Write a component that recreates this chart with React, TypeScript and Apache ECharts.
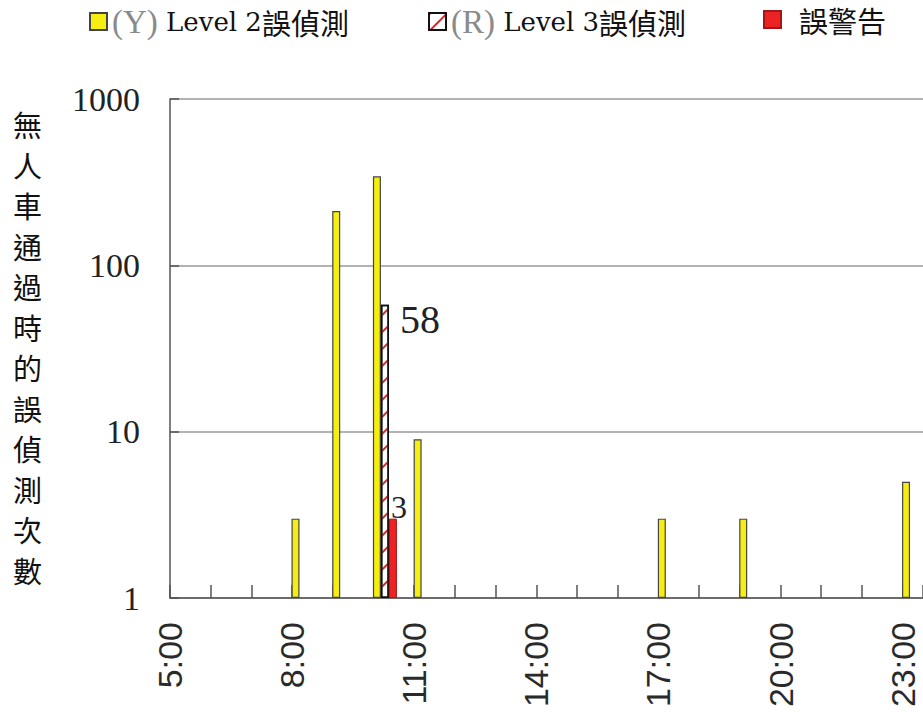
import React, { useEffect, useRef } from "react";
import * as echarts from "echarts";

// ---- data ----
const level2Hours = [8, 9, 10, 11, 17, 19, 23];
const level2Counts = [3, 212, 343, 9, 3, 3, 5];
const level3Hours = [10];
const level3Counts = [58];
const alarmHours = [10];
const alarmCounts = [3];
const yTicks = [1, 10, 100, 1000];
const xLabelHours = [5, 8, 11, 14, 17, 20, 23];
const seriesNames = ["(Y) Level 2誤偵測", "(R) Level 3誤偵測", "誤警告"];
const yAxisTitle = "無人車通過時的誤偵測次數";

const BAR_SHIFT = 0.28; // bars sit just right of the hour tick, as in the original

export default function App() {
  const ref = useRef<HTMLDivElement>(null);
  useEffect(() => {
    if (!ref.current) return;
    const chart = echarts.init(ref.current, undefined, { renderer: "svg" });
    const toPairs = (hs: number[], vs: number[]) => hs.map((h, i) => [h + BAR_SHIFT, vs[i]]);
    const legendRich = {
      g: { fontFamily: "Liberation Serif", fontSize: 33, color: "#8a8a8a" },
      m: { fontFamily: "DejaVu Serif", fontSize: 26, color: "#111" },
      c: { fontFamily: "Noto Sans CJK TC", fontSize: 29, color: "#111" },
    };
    const legendBase = {
      itemWidth: 17,
      itemHeight: 17,
      icon: "rect",
      itemGap: 0,
      textStyle: { rich: legendRich },
    };
    const option: any = {
      animation: false,
      backgroundColor: "#fff",
      legend: [
        {
          ...legendBase,
          left: 84,
          top: 0,
          data: [seriesNames[0]],
          formatter: () => "{g|(Y)}{m| Level 2}{c|誤偵測}",
        },
        {
          ...legendBase,
          left: 423,
          top: 0,
          data: [seriesNames[1]],
          formatter: () => "{g|(R)}{m| Level 3}{c|誤偵測}",
        },
        {
          ...legendBase,
          left: 758,
          top: 0,
          data: [seriesNames[2]],
          formatter: () => "{c|  誤警告}",
        },
      ],
      grid: { left: 170, top: 99, bottom: 117, width: 757 },
      xAxis: {
        type: "value",
        min: 5,
        max: 23.5,
        interval: 1,
        axisLine: { show: true, lineStyle: { color: "#555", width: 1.5 } },
        axisTick: { show: true, inside: true, length: 13, lineStyle: { color: "#555", width: 1.5 } },
        splitLine: { show: false },
        axisLabel: {
          rotate: 90,
          margin: 24,
          fontFamily: "Liberation Sans",
          fontSize: 34,
          color: "#2a2a2a",
          formatter: (v: number) => (xLabelHours.indexOf(v) >= 0 ? `${v}:00` : ""),
        },
      },
      yAxis: {
        type: "log",
        logBase: 10,
        min: yTicks[0],
        max: yTicks[yTicks.length - 1],
        axisLine: { show: true, lineStyle: { color: "#555", width: 1.5 } },
        axisTick: { show: true, inside: true, length: 9, lineStyle: { color: "#555", width: 1.5 } },
        splitLine: { show: true, lineStyle: { color: "#999", width: 1.5 } },
        axisLabel: {
          margin: 30,
          fontFamily: "Liberation Serif",
          fontSize: 34,
          color: "#222",
          formatter: (v: number) => String(Math.round(v)),
        },
      },
      graphic: [
        {
          type: "text",
          left: 13,
          top: 104,
          style: {
            text: yAxisTitle.split("").join("\n"),
            fontFamily: "Noto Sans CJK TC",
            fontSize: 29,
            lineHeight: 40.5,
            fill: "#111",
            align: "center",
          },
        },
      ],
      series: [
        {
          name: seriesNames[0],
          type: "bar",
          barWidth: 8,
          barGap: "0%",
          data: toPairs(level2Hours, level2Counts),
          itemStyle: { color: "#f5ee10", borderColor: "#444", borderWidth: 1.2 },
        },
        {
          name: seriesNames[1],
          type: "bar",
          barWidth: 8,
          barGap: "0%",
          data: toPairs(level3Hours, level3Counts),
          itemStyle: {
            color: "#ffffff",
            borderColor: "#111",
            borderWidth: 1.5,
            decal: {
              symbol: "rect",
              color: "#c83030",
              backgroundColor: "#ffffff",
              dashArrayX: [1, 0],
              dashArrayY: [2, 10],
              rotation: -Math.PI / 4,
            },
          },
          label: {
            show: true,
            position: [19, -5],
            align: "left",
            verticalAlign: "top",
            fontFamily: "Liberation Serif",
            fontSize: 40,
            color: "#222",
          },
        },
        {
          name: seriesNames[2],
          type: "bar",
          barWidth: 8,
          barGap: "0%",
          data: toPairs(alarmHours, alarmCounts),
          itemStyle: { color: "#ee2222", borderColor: "#a01818", borderWidth: 1 },
          label: {
            show: true,
            position: [2, 4],
            align: "left",
            verticalAlign: "bottom",
            fontFamily: "Liberation Serif",
            fontSize: 32,
            color: "#222",
          },
        },
      ],
    };
    chart.setOption(option);
    return () => chart.dispose();
  }, []);
  return (
    <div
      ref={ref}
      style={{ position: "fixed", left: 0, top: 0, width: 923, height: 715, background: "#fff" }}
    />
  );
}
